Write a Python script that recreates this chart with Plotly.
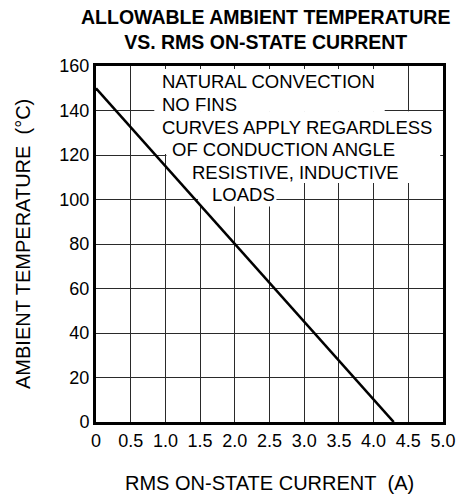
import plotly.graph_objects as go

# Derating line: allowable ambient temperature vs RMS on-state current
current_a = [0.0, 4.29]
ambient_c = [150, 0]

x_ticks = [0, 0.5, 1.0, 1.5, 2.0, 2.5, 3.0, 3.5, 4.0, 4.5, 5.0]
x_tick_text = ["0", "0.5", "1.0", "1.5", "2.0", "2.5", "3.0", "3.5", "4.0", "4.5", "5.0"]
y_ticks = [0, 20, 40, 60, 80, 100, 120, 140, 160]
y_tick_text = ["0", "20", "40", "60", "80", "100", "120", "140", "160"]

notes = [
    "NATURAL CONVECTION",
    "NO FINS",
    "CURVES APPLY REGARDLESS",
    "OF CONDUCTION ANGLE",
    "RESISTIVE, INDUCTIVE",
    "LOADS",
]

FONT = "Liberation Sans, Arial, sans-serif"

fig = go.Figure()
fig.add_trace(go.Scatter(
    x=current_a, y=ambient_c, mode="lines",
    line=dict(color="black", width=2.6),
    hoverinfo="skip", showlegend=False,
))

# white panel behind the note text (above grid, below the curve)
def blank(x0, x1, y0, y1):
    fig.add_shape(type="rect", xref="x", yref="y", x0=x0, x1=x1, y0=y0, y1=y1,
                  fillcolor="white", line=dict(width=0), layer="between")

blank(0.84, 4.16, 139.4, 158.6)
blank(0.85, 4.96, 120.4, 139.7)
blank(1.015, 4.96, 107.4, 120.4)
blank(1.47, 2.60, 96.8, 107.4)

note_pos = [
    (0.927, 153.0),
    (0.927, 142.5),
    (0.927, 132.4),
    (1.07, 122.3),
    (1.36, 112.1),
    (1.64, 102.3),
]
for text, (nx, ny) in zip(notes, note_pos):
    fig.add_annotation(x=nx, y=ny, xref="x", yref="y", text=text, showarrow=False,
                       xanchor="left", yanchor="middle",
                       font=dict(family=FONT, size=18.5, color="black"))

# chart title, centred slightly left of the plot centre
fig.add_annotation(x=0.489, y=1, xref="paper", yref="paper", yshift=37,
                   text="<b>ALLOWABLE AMBIENT TEMPERATURE<br>VS. RMS ON-STATE CURRENT</b>",
                   showarrow=False, xanchor="center", yanchor="middle",
                   font=dict(family=FONT, size=19.5, color="black"))

# axis titles
fig.add_annotation(x=0.5, y=0, xref="paper", yref="paper", yshift=-61,
                   text="RMS ON-STATE CURRENT\u00a0\u00a0(A)", showarrow=False,
                   xanchor="center", yanchor="middle",
                   font=dict(family=FONT, size=20, color="black"))
fig.add_annotation(x=0, y=0.5, xref="paper", yref="paper", xshift=-73,
                   text="AMBIENT TEMPERATURE\u00a0\u00a0(°C)", showarrow=False,
                   textangle=-90, xanchor="center", yanchor="middle",
                   font=dict(family=FONT, size=20, color="black"))

axis_common = dict(
    showline=True, linecolor="black", linewidth=3, mirror=True,
    showgrid=True, gridcolor="#2a2a2a", gridwidth=1,
    zeroline=False, ticks="",
    tickfont=dict(family=FONT, size=18, color="black"),
)

fig.update_xaxes(range=[0, 5], tickvals=x_ticks, ticktext=x_tick_text, **axis_common)
fig.update_yaxes(range=[0, 160], tickvals=y_ticks, ticktext=y_tick_text, **axis_common)

fig.update_layout(
    width=468, height=498,
    margin=dict(l=96, r=16, t=66, b=76),
    paper_bgcolor="white", plot_bgcolor="white",
)

fig.write_html("out.html")
